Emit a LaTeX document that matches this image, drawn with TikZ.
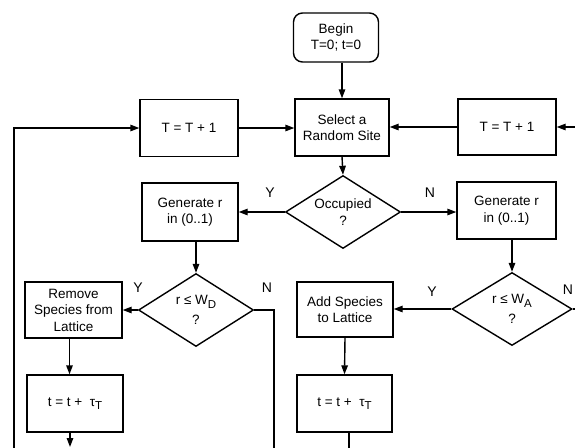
\documentclass[tikz,border=0pt]{standalone}
\usepackage{fontspec}
\setmainfont{Liberation Sans}
\usetikzlibrary{shapes.geometric,arrows.meta}
\begin{document}
\begin{tikzpicture}[x=1pt,y=-1pt,
  every node/.style={font=\fontsize{13.5}{16.5}\selectfont},
  box/.style={draw,line width=1.4pt,inner sep=0pt,align=center,rectangle},
  rbox/.style={box,rounded corners=9pt,minimum width=85pt,minimum height=49pt},
  dia/.style={draw,line width=1.4pt,diamond,inner sep=0pt,align=center,aspect=1.6},
  lbl/.style={font=\fontsize{14}{16}\selectfont,inner sep=0pt},
  conn/.style={line width=1.4pt},
  arr/.style={conn,-{Triangle[length=9pt,width=6.5pt]}}]
\useasboundingbox (0,0) rectangle (575,447);
\clip (0,0) rectangle (575,447);
\fill[white] (0,0) rectangle (575,447);
% nodes
\node[rbox] (begin) at (336,37.5) {Begin\\T=0; t=0};
\node[box,minimum width=94pt,minimum height=57pt] (select) at (342,127.5) {Select a\\Random Site};
\node[box,minimum width=98pt,minimum height=57pt] (tl) at (189,128) {T = T + 1};
\node[box,minimum width=98pt,minimum height=56pt] (tr) at (507,127) {T = T + 1};
\node[dia,minimum width=115pt,minimum height=73pt] (occ) at (343,212) {Occupied\\?};
\node[box,minimum width=96pt,minimum height=58pt] (genl) at (190,212) {Generate r\\in (0..1)};
\node[box,minimum width=99pt,minimum height=57pt] (genr) at (506.5,210.5) {Generate r\\in (0..1)};
\node[dia,minimum width=115pt,minimum height=73pt] (dd) at (196,310) {r ≤ W\raisebox{-0.45ex}{\fontsize{11.5}{12}\selectfont D}\\[3pt]?};
\node[dia,minimum width=120pt,minimum height=73pt] (da) at (512,309) {r ≤ W\raisebox{-0.45ex}{\fontsize{11.5}{12}\selectfont A}\\[3pt]?};
\node[box,minimum width=97pt,minimum height=56pt] (rem) at (73.5,310) {Remove\\Species from\\Lattice};
\node[box,minimum width=96pt,minimum height=55pt] (add) at (345,309.5) {Add Species\\to Lattice};
\node[box,minimum width=96pt,minimum height=57pt] (tD) at (75,403.5) {t = t +\ \ τ\raisebox{-0.5ex}{\fontsize{11.5}{12}\selectfont T}};
\node[box,minimum width=95pt,minimum height=57pt] (tA) at (344.5,403.5) {t = t +\ \ τ\raisebox{-0.5ex}{\fontsize{11.5}{12}\selectfont T}};
% labels
\node[lbl] (y1) at (270,193) {Y};
\node[lbl] (n1) at (430,193) {N};
\node[lbl] (y2) at (138,288) {Y};
\node[lbl] (n2) at (267,288) {N};
\node[lbl] (y3) at (432,292) {Y};
\node[lbl] (n3) at (568,290) {N};
% free ends
\coordinate (lb) at (14,450);
\coordinate (rin) at (580,127);
\coordinate (dnb) at (274,450);
\coordinate (ae) at (580,309);
\coordinate (tdb) at (70,447);
\coordinate (tab) at (349,450);
% connectors
\draw[arr] (select.north |- begin.south) -- (select.north);
\draw[arr] (tl.east) -- (tl.east -| select.west);
\draw[arr] (tr.west) -- (tr.west -| select.east);
\draw[arr] (rin) -- (tr.east);
\draw[arr] (lb) |- (tl.west);
\draw[arr] (select.south) -- (occ.north);
\draw[arr] (occ.west) -- (genl.east);
\draw[arr] (occ.east) -- (occ.east -| genr.west);
\draw[arr] (dd.north |- genl.south) -- (dd.north);
\draw[arr] (da.north |- genr.south) -- (da.north);
\draw[arr] (dd.west) -- (rem.east);
\draw[conn] (dd.east) -| (dnb);
\draw[arr] (da.west) -- (da.west -| add.east);
\draw[conn] (da.east) -- (ae);
\draw[arr] ([xshift=-4pt]rem.south) -- ([xshift=-4pt]rem.south |- tD.north);
\draw[arr] ([xshift=-5pt]tD.south) -- (tdb);
\draw[arr] (add.south) -- (tA.north);
\draw[conn] ([xshift=4.5pt]tA.south) -- (tab);
\end{tikzpicture}
\end{document}
